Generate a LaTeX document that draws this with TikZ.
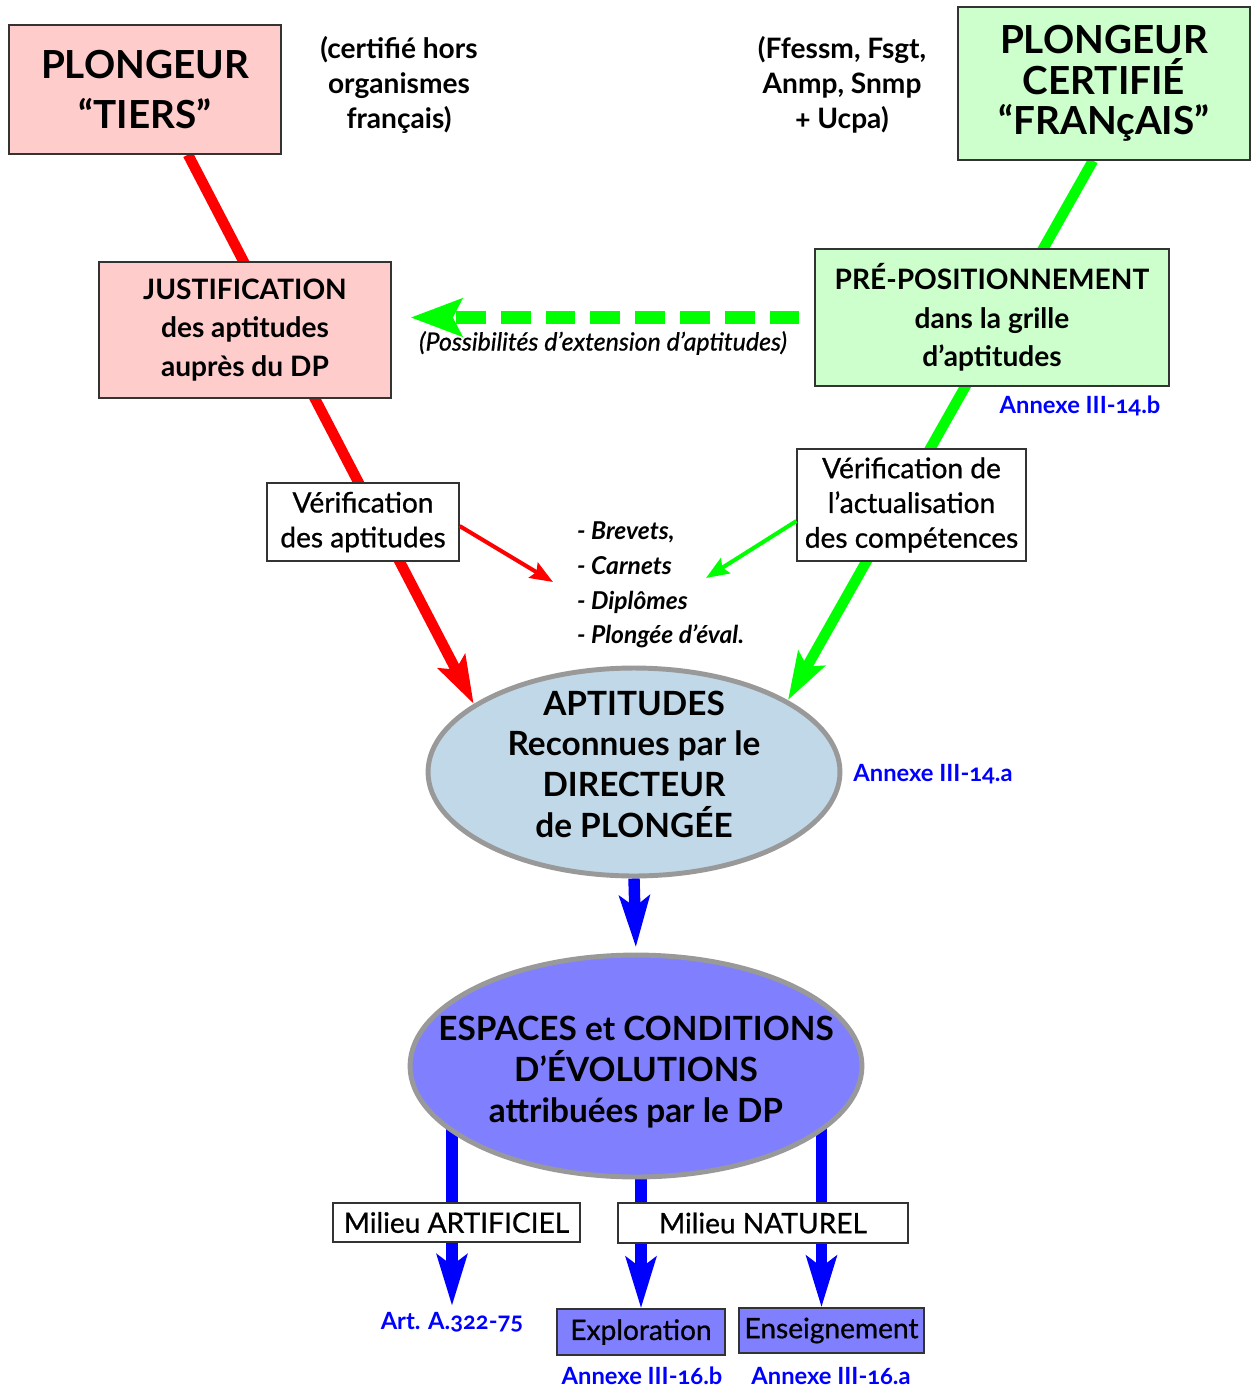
\documentclass[tikz,border=0pt]{standalone}
\usepackage{fontspec}
\setmainfont{Lato}[Numbers=OldStyle]
\usetikzlibrary{arrows.meta,calc,backgrounds,shapes.geometric}
\definecolor{tierspink}{HTML}{FFCCCC}
\definecolor{frgreen}{HTML}{CCFFCC}
\definecolor{aptblue}{HTML}{C0D8E8}
\definecolor{espblue}{HTML}{8080FF}
\definecolor{rimgray}{HTML}{999999}
\definecolor{redline}{HTML}{FF0000}
\definecolor{greenline}{HTML}{00FF00}
\definecolor{blueline}{HTML}{0000FF}

\begin{document}
\begin{tikzpicture}[x=0.02cm,y=-0.02cm,
    box/.style={draw=black!80,line width=0.7pt,align=center,inner sep=0pt},
    titletxt/.style={font=\fontsize{22}{28}\selectfont\bfseries},
    headtxt/.style={font=\fontsize{16}{21.8}\selectfont\bfseries},
    notetxt/.style={align=center,font=\fontsize{16}{19.8}\selectfont\bfseries},
    bodytxt/.style={font=\fontsize{16}{19.8}\selectfont\addfontfeature{FakeBold=0.8}},
    reftxt/.style={text=blueline,font=\fontsize{13.5}{16}\selectfont\bfseries},
    bubble/.style={ellipse,draw=rimgray,line width=2.8pt,inner sep=0pt},
    bigtip/.style={-{Stealth[length=27pt,width=17pt,inset=5pt]}},
    bluetip/.style={-{Stealth[length=29pt,width=17pt,inset=6pt]}},
    smalltip/.style={-{Stealth[length=13pt,width=10pt,inset=2pt]}}]
    \useasboundingbox (0,0) rectangle (1256,1393);

    \node[box,fill=tierspink,titletxt,minimum width=5.44cm,minimum height=2.58cm] (tiers) at (145,89.5) {PLONGEUR\\“TIERS”};
    \node[notetxt] (horsorg) at (399,85) {(certifié hors\\organismes\\français)};
    \node[notetxt] (federations) at (842,85) {(Ffessm, Fsgt,\\Anmp, Snmp\\+ Ucpa)};
    \node[box,fill=frgreen,font=\fontsize{22}{23.2}\selectfont\bfseries,minimum width=5.84cm,minimum height=3.06cm] (francais) at (1104,83.5) {PLONGEUR\\CERTIFIÉ\\“FRANçAIS”};

    \node[box,fill=tierspink,headtxt,minimum width=5.84cm,minimum height=2.72cm] (justif) at (245,330) {JUSTIFICATION\\des aptitudes\\auprès du DP};
    \node[box,fill=frgreen,headtxt,minimum width=7.08cm,minimum height=2.74cm] (prepos) at (992,317.5) {PRÉ-POSITIONNEMENT\\dans la grille\\d’aptitudes};
    \node[reftxt] (annexeB) at (1080,406) {Annexe III-14.b};
    \node[font=\fontsize{14.2}{17}\selectfont\itshape\addfontfeature{FakeBold=0.8}] (extension) at (603,343) {(Possibilités d’extension d’aptitudes)};

    \node[box,fill=white,bodytxt,minimum width=3.84cm,minimum height=1.56cm] (verifA) at (363,522) {Vérification\\des aptitudes};
    \node[box,fill=white,bodytxt,minimum width=4.58cm,minimum height=2.24cm] (verifB) at (911.5,505) {Vérification de\\l’actualisation\\des compétences};
    \node[anchor=west,align=left,font=\fontsize{14}{19.8}\selectfont\bfseries\itshape] (docs) at (571,585) {- Brevets,\\- Carnets\\- Diplômes\\- Plongée d’éval.};
    \coordinate (redtip) at (553,582);
    \coordinate (greentip) at (706,578);

    \node[bubble,fill=aptblue,minimum width=8.24cm,minimum height=4.16cm,
        label={[align=center,yshift=4.5pt,font=\fontsize{19}{23.2}\selectfont\bfseries]center:APTITUDES\\Reconnues par le\\DIRECTEUR\\de PLONGÉE}] (aptitudes) at (634,772) {};
    \node[reftxt] (annexeA) at (933,774) {Annexe III-14.a};
    \node[bubble,fill=espblue,minimum width=9.04cm,minimum height=4.44cm,
        label={[align=center,yshift=-3.4pt,font=\fontsize{19}{23.2}\selectfont\bfseries]center:ESPACES et CONDITIONS\\D’ÉVOLUTIONS\\attribuées par le DP}] (espaces) at (636,1066) {};

    \node[box,fill=white,bodytxt,minimum width=4.94cm,minimum height=0.78cm] (artif) at (456.5,1222.5) {Milieu ARTIFICIEL};
    \node[box,fill=white,bodytxt,minimum width=5.80cm,minimum height=0.80cm] (naturel) at (763,1223) {Milieu NATUREL};
    \node[reftxt] (artlabel) at (452,1322) {Art. A.322-75};
    \node[box,fill=espblue,bodytxt,minimum width=3.36cm,minimum height=0.92cm] (explo) at (641,1332) {Exploration};
    \node[box,fill=espblue,bodytxt,minimum width=3.70cm,minimum height=0.90cm] (enseig) at (831.5,1330.5) {Enseignement};
    \node[reftxt] (annexeExp) at (642,1376) {Annexe III-16.b};
    \node[reftxt] (annexeEns) at (831,1376) {Annexe III-16.a};

    \begin{scope}[on background layer]
        \draw[redline,line width=6pt,bigtip] ($(tiers.south)+(43,0)$) -- (aptitudes.157);
        \draw[greenline,line width=6pt,bigtip] ($(francais.south)+(-11,0)$) -- (aptitudes.25);
        \draw[blueline,line width=6.5pt,bluetip,shorten >=3pt] (aptitudes.south) -- (espaces.north);
        \draw[blueline,line width=6.5pt,bluetip] (espaces.center -| artlabel.north) -- (artlabel.north);
        \draw[blueline,line width=6.5pt,bluetip] (espaces.center -| explo.north) -- (explo.north);
        \draw[blueline,line width=6.5pt,bluetip] ($(espaces.center -| enseig.north)+(-10,0)$) -- ($(enseig.north)+(-10,0)$);
    \end{scope}

    \draw[redline,line width=2.3pt,smalltip] ($(verifA.east)+(0,4)$) -- (redtip);
    \draw[greenline,line width=2.3pt,smalltip] ($(verifB.west)+(0,16)$) -- (greentip);
    \draw[greenline,line width=7.3pt,dash pattern=on 17pt off 8.5pt,-{Stealth[length=29pt,width=21pt,inset=5pt]}] ($(prepos.west)+(-15,0)$) -- ($(prepos.west -| justif.east)+(19,0)$);
\end{tikzpicture}
\end{document}
